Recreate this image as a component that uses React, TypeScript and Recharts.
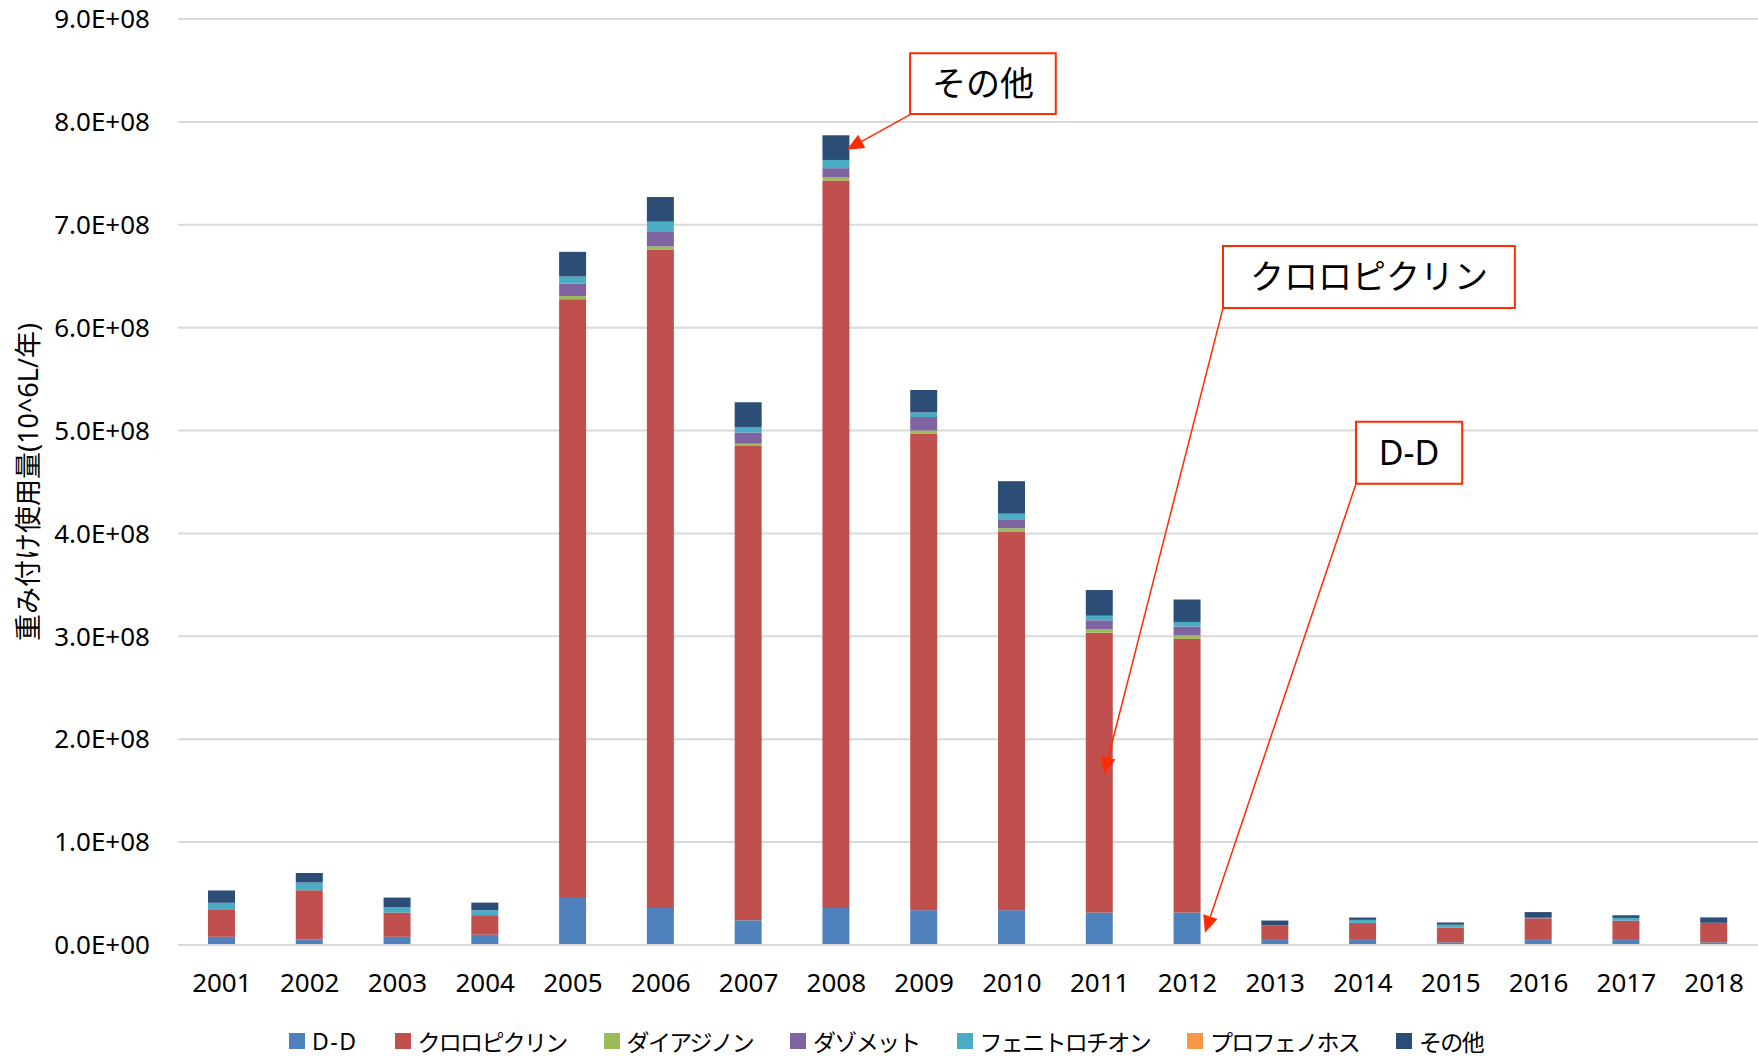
import React from "react"
import {
  BarChart,
  Bar,
  XAxis,
  YAxis,
  CartesianGrid,
  Legend,
  ReferenceArea,
  ReferenceLine
} from "recharts"

const years = [
  "2001", "2002", "2003", "2004", "2005", "2006", "2007", "2008", "2009",
  "2010", "2011", "2012", "2013", "2014", "2015", "2016", "2017", "2018"
]

const seriesNames = [
  "D-D",
  "クロロピクリン",
  "ダイアジノン",
  "ダゾメット",
  "フェニトロチオン",
  "プロフェノホス",
  "その他"
]

const seriesColors = ["#4F81BD", "#C0504D", "#9BBB59", "#8064A2", "#4BACC6", "#F79646", "#2C4D75"]

// values, in units of 10^6
const dd = [8, 5.5, 8, 10, 45.7, 36, 24, 36, 33.8, 33.8, 31.6, 31.6, 5, 5, 2.6, 5, 5, 2.6]
const chloropicrin = [26, 47.7, 23.5, 19, 582, 640, 461, 707, 463, 368, 272, 266, 14, 16.5, 14.2, 21, 18.7, 19]
const diazinon = [0, 0, 0, 0, 3, 3, 2.2, 3, 3.3, 3.3, 3.3, 3.3, 0, 0, 0, 0, 0, 0]
const dazomet = [0, 0, 0, 0, 12, 14, 10.9, 9, 13.1, 8.7, 8.7, 8.7, 0, 0, 0, 0, 0, 0]
const fenitrothion = [7, 7.5, 5.2, 4.8, 7, 10, 5.4, 8, 4.4, 5.4, 4.4, 4.4, 0, 2.9, 2.9, 0.5, 2.6, 0]
const profenofos = [0, 0, 0, 0, 0, 0, 0, 0, 0, 0, 0, 0, 0, 0, 0, 0, 0, 0]
const others = [12, 9.3, 9.4, 7.4, 24, 24, 24, 24, 21.8, 31.6, 25, 21.8, 4.8, 2.3, 2.2, 5.5, 2.6, 5.2]

const seriesValues = [dd, chloropicrin, diazinon, dazomet, fenitrothion, profenofos, others]

const yTicks = [0, 1e8, 2e8, 3e8, 4e8, 5e8, 6e8, 7e8, 8e8, 9e8]

const data = years.map((year, i) => {
  const row: Record<string, string | number> = { year, slot: i }
  seriesNames.forEach((name, s) => {
    row[name] = seriesValues[s][i] * 1e6
  })
  return row
})

// callouts: x in category-index units (category i is centred on i), y in data units
const callouts = [
  { text: "その他", x1: 7.84, x2: 9.5, y1: 8.076e8, y2: 8.666e8, from: [7.84, 8.07e8], to: [7.12, 7.73e8] },
  { text: "クロロピクリン", x1: 11.405, x2: 14.73, y1: 6.19e8, y2: 6.793e8, from: [11.405, 6.19e8], to: [10.05, 1.66e8] },
  { text: "D-D", x1: 12.92, x2: 14.13, y1: 4.483e8, y2: 5.086e8, from: [12.92, 4.483e8], to: [11.2, 0.12e8] }
]

const RED = "#FF2A00"
const FONT = "'Noto Sans', 'Noto Sans CJK JP', sans-serif"

function formatSci(v: number) {
  const [m, e] = v.toExponential(1).split("e")
  const exp = e.replace("+", "").replace("-", "")
  return `${m}E${e.startsWith("-") ? "-" : "+"}${exp.padStart(2, "0")}`
}

function Arrow(props: any) {
  const { x1, y1, x2, y2 } = props
  const dx = x2 - x1
  const dy = y2 - y1
  const len = Math.hypot(dx, dy) || 1
  const ux = dx / len
  const uy = dy / len
  const head = 17
  const half = 7.5
  const bx = x2 - ux * head
  const by = y2 - uy * head
  const pts = `${x2},${y2} ${bx - uy * half},${by + ux * half} ${bx + uy * half},${by - ux * half}`
  return (
    <g>
      <line x1={x1} y1={y1} x2={bx} y2={by} stroke={RED} strokeWidth={1.5} />
      <polygon points={pts} fill={RED} />
    </g>
  )
}

function LegendRow() {
  return (
    <div
      style={{
        display: "flex",
        alignItems: "center",
        height: 30,
        paddingLeft: 289,
        fontFamily: FONT,
        fontSize: 23,
        color: "#000"
      }}
    >
      {seriesNames.map((name, i) => (
        <div key={name} style={{ display: "flex", alignItems: "center", marginRight: 37 }}>
          <span style={{ width: 16, height: 16, background: seriesColors[i], marginRight: 7 }} />
          <span style={{ letterSpacing: name === "D-D" ? 1.5 : -1.7 }}>{name}</span>
        </div>
      ))}
    </div>
  )
}

export default function App() {
  return (
    <div style={{ position: "absolute", left: 0, top: 0, background: "#fff" }}>
      <BarChart
        width={1758}
        height={1056}
        data={data}
        margin={{ top: 19, right: 0, bottom: 0, left: 0 }}
        barSize={27}
      >
        <CartesianGrid vertical={false} stroke="#D9D9D9" strokeWidth={2} />
        <XAxis
          dataKey="year"
          height={81}
          tickLine={false}
          tickSize={0}
          tickMargin={29}
          axisLine={{ stroke: "#D9D9D9", strokeWidth: 2 }}
          tick={{ fontSize: 26, fill: "#000", fontFamily: FONT }}
          interval={0}
        />
        <XAxis
          xAxisId="ann"
          dataKey="slot"
          type="number"
          domain={[-0.5, years.length - 0.5]}
          allowDataOverflow
          allowDecimals
          hide
        />
        <YAxis
          width={178}
          domain={[0, 9e8]}
          ticks={yTicks}
          tickFormatter={formatSci}
          axisLine={false}
          tickLine={false}
          tickSize={0}
          tickMargin={28}
          tick={{ fontSize: 26, fill: "#000", fontFamily: FONT }}
          label={{
            value: "重み付け使用量(10^6L/年)",
            angle: -90,
            position: "insideLeft",
            offset: 28,
            style: { textAnchor: "middle", fontSize: 27, fill: "#000", fontFamily: FONT }
          }}
        />
        <Legend verticalAlign="bottom" content={() => <LegendRow />} wrapperStyle={{ left: 0, width: 1758 }} />
        {seriesNames.map((name, i) => (
          <Bar
            key={name}
            dataKey={name}
            stackId="a"
            fill={seriesColors[i]}
            isAnimationActive={false}
          />
        ))}
        {callouts.map((c) => (
          <ReferenceArea
            key={c.text + "-box"}
            xAxisId="ann"
            x1={c.x1}
            x2={c.x2}
            y1={c.y1}
            y2={c.y2}
            fill="#fff"
            fillOpacity={1}
            stroke={RED}
            strokeWidth={2}
            label={{ value: c.text, position: "center", fontSize: 34, fill: "#000", fontFamily: FONT }}
          />
        ))}
        {callouts.map((c) => (
          <ReferenceLine
            key={c.text + "-arrow"}
            xAxisId="ann"
            segment={[
              { x: c.from[0], y: c.from[1] },
              { x: c.to[0], y: c.to[1] }
            ]}
            shape={Arrow}
          />
        ))}
      </BarChart>
    </div>
  )
}
